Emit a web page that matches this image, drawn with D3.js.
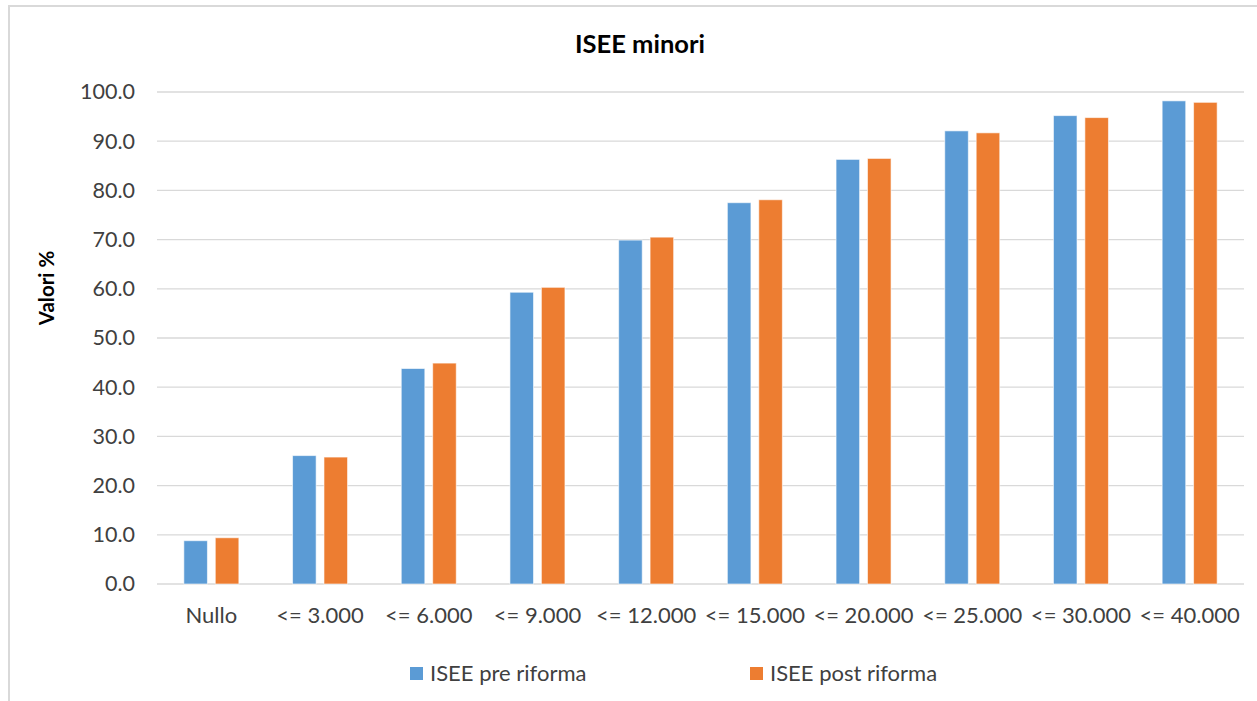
<!DOCTYPE html>
<html>
<head>
<meta charset="utf-8">
<script src="https://cdn.jsdelivr.net/npm/d3@7"></script>
<style>
  body { margin: 0; background: #fff; }
  svg { font-family: Lato, "Open Sans", sans-serif; }
</style>
</head>
<body>
<svg id="chart" width="1257" height="701"></svg>
<script>
// data
var categories = ["Nullo", "<= 3.000", "<= 6.000", "<= 9.000", "<= 12.000",
    "<= 15.000", "<= 20.000", "<= 25.000", "<= 30.000", "<= 40.000"];
var seriesNames = ["ISEE pre riforma", "ISEE post riforma"];
var preRiforma = [8.8, 26.1, 43.8, 59.3, 69.9, 77.5, 86.3, 92.1, 95.2, 98.2];
var postRiforma = [9.4, 25.8, 44.9, 60.3, 70.5, 78.1, 86.5, 91.7, 94.8, 97.9];
var yTicks = [0, 10, 20, 30, 40, 50, 60, 70, 80, 90, 100];

var colors = ["#5b9bd5", "#ed7d31"];

var svg = d3.select("#chart");

// outer frame
svg.append("rect")
    .attr("x", 9).attr("y", 6)
    .attr("width", 1260).attr("height", 720)
    .attr("fill", "none")
    .attr("stroke", "#d9d9d9")
    .attr("stroke-width", 2);

var plotLeft = 157, plotRight = 1244, plotTop = 92, plotBottom = 584;

var x = d3.scaleBand()
    .domain(categories)
    .range([plotLeft, plotRight]);

var xInner = d3.scaleBand()
    .domain(seriesNames)
    .range([0, 55])
    .paddingInner(0.25);

var y = d3.scaleLinear()
    .domain([0, 100])
    .range([plotBottom, plotTop]);

// gridlines
svg.append("g")
    .selectAll("line")
    .data(yTicks)
    .enter()
    .append("line")
    .attr("x1", plotLeft)
    .attr("x2", plotRight)
    .attr("y1", function (d) { return y(d); })
    .attr("y2", function (d) { return y(d); })
    .attr("stroke", "#d9d9d9")
    .attr("stroke-width", 1.3);

// y axis labels
var yAxis = d3.axisLeft(y)
    .tickValues(yTicks)
    .tickFormat(d3.format(".1f"))
    .tickSize(0)
    .tickPadding(22);

svg.append("g")
    .attr("transform", "translate(" + plotLeft + ",0)")
    .call(yAxis)
    .call(function (g) { g.select(".domain").remove(); })
    .selectAll("text")
    .attr("font-family", "Lato, sans-serif")
    .attr("font-size", 21.5)
    .attr("fill", "#404040");

// x axis labels
var xAxis = d3.axisBottom(x).tickSize(0).tickPadding(23);
svg.append("g")
    .attr("transform", "translate(0," + plotBottom + ")")
    .call(xAxis)
    .call(function (g) { g.select(".domain").remove(); })
    .selectAll("text")
    .attr("font-family", "Lato, sans-serif")
    .attr("font-size", 22)
    .attr("fill", "#404040");

// bars
var rows = categories.map(function (c, i) {
    return { cat: c, values: [preRiforma[i], postRiforma[i]] };
});

var groups = svg.append("g")
    .selectAll("g")
    .data(rows)
    .enter()
    .append("g")
    .attr("transform", function (d) {
        return "translate(" + (x(d.cat) + x.bandwidth() / 2 - 27.5) + ",0)";
    });

groups.selectAll("rect")
    .data(function (d) { return d.values; })
    .enter()
    .append("rect")
    .attr("x", function (d, i) { return xInner(seriesNames[i]); })
    .attr("y", function (d) { return y(d); })
    .attr("width", xInner.bandwidth())
    .attr("height", function (d) { return plotBottom - y(d); })
    .attr("fill", function (d, i) { return colors[i]; })
    .attr("stroke", "#fff")
    .attr("stroke-opacity", 0.6)
    .attr("stroke-width", 1);

// title
svg.append("text")
    .attr("x", 640)
    .attr("y", 53)
    .attr("text-anchor", "middle")
    .attr("font-size", 25.5)
    .attr("font-weight", "bold")
    .attr("fill", "#000")
    .text("ISEE minori");

// y axis title
svg.append("text")
    .attr("transform", "translate(54,288) rotate(-90)")
    .attr("text-anchor", "middle")
    .attr("font-size", 20.5)
    .attr("font-weight", "bold")
    .attr("fill", "#000")
    .text("Valori %");

// legend
var legendX = [410, 750];
var legend = svg.append("g")
    .selectAll("g")
    .data(seriesNames)
    .enter()
    .append("g")
    .attr("transform", function (d, i) { return "translate(" + legendX[i] + ",667)"; });

legend.append("rect")
    .attr("width", 13)
    .attr("height", 13)
    .attr("fill", function (d, i) { return colors[i]; });

legend.append("text")
    .attr("x", 20)
    .attr("y", 14)
    .attr("font-size", 22)
    .attr("fill", "#404040")
    .text(function (d) { return d; });
</script>
</body>
</html>
